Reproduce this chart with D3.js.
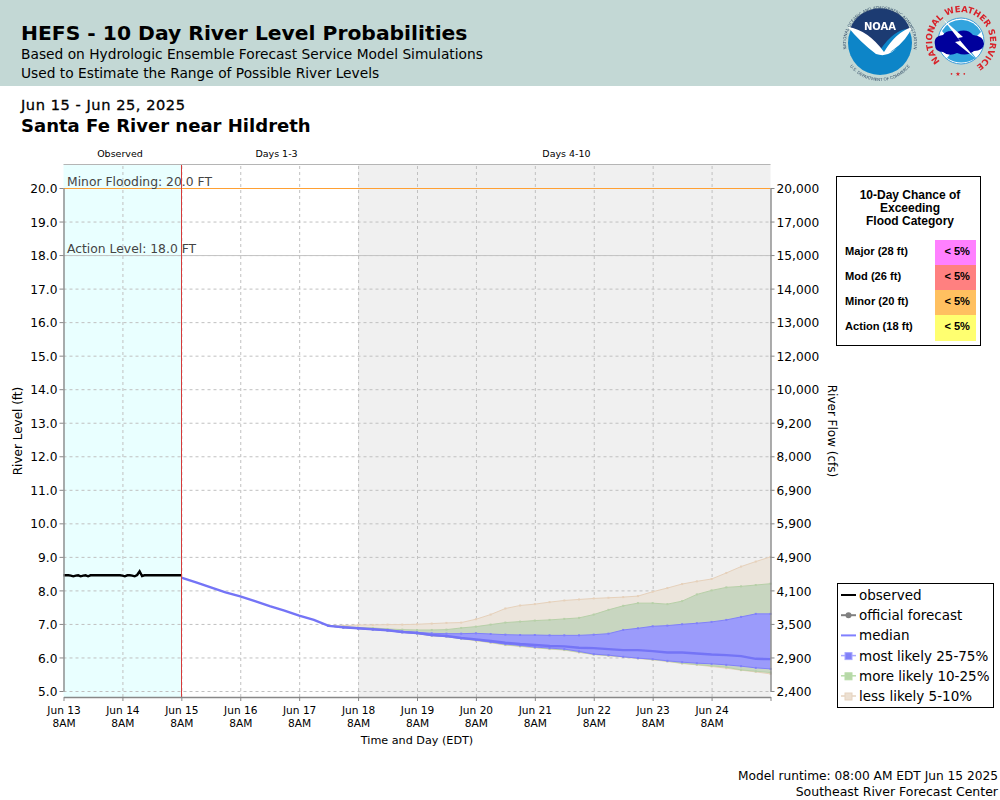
<!DOCTYPE html>
<html>
<head>
<meta charset="utf-8">
<script src="https://cdn.jsdelivr.net/npm/d3@7"></script>
<style>
  html, body { margin: 0; padding: 0; background: #fff; }
  svg { display: block; }
  text { font-family: "DejaVu Sans", sans-serif; fill: #000; }
</style>
</head>
<body>
<script>
// y axis labels, one per foot
const stageTicks = [5, 6, 7, 8, 9, 10, 11, 12, 13, 14, 15, 16, 17, 18, 19, 20];
const flowLabels = ["2,400", "2,900", "3,500", "4,100", "4,900", "5,900", "6,900", "8,000",
  "9,200", "10,000", "12,000", "13,000", "14,000", "15,000", "17,000", "20,000"];
const dayLabels = ["Jun 13", "Jun 14", "Jun 15", "Jun 16", "Jun 17", "Jun 18", "Jun 19",
  "Jun 20", "Jun 21", "Jun 22", "Jun 23", "Jun 24"];

// observed stage, hourly from Jun 13 8AM
const observed = [8.45, 8.45, 8.45, 8.44, 8.42, 8.44, 8.45, 8.42, 8.44, 8.45, 8.42, 8.45, 8.45,
  8.45, 8.45, 8.45, 8.45, 8.45, 8.45, 8.45, 8.45, 8.45, 8.45, 8.45, 8.44, 8.42, 8.45, 8.45, 8.44,
  8.42, 8.46, 8.57, 8.43, 8.45, 8.45, 8.45, 8.45, 8.45, 8.45, 8.45, 8.45, 8.45, 8.45, 8.45, 8.45,
  8.45, 8.45, 8.45, 8.45];

// median forecast, every 6 hours from Jun 15 8AM
const median = [8.38, 8.24, 8.09, 7.94, 7.82, 7.68, 7.53, 7.40, 7.25, 7.12, 6.94, 6.90, 6.87, 6.84,
  6.81, 6.76, 6.73, 6.67, 6.64, 6.58, 6.54, 6.49, 6.44, 6.40, 6.37, 6.34, 6.33, 6.29, 6.28, 6.25,
  6.22, 6.22, 6.19, 6.15, 6.15, 6.12, 6.09, 6.07, 6.04, 5.96, 5.95];

// probability bands, every 6 hours from Jun 17 8PM
const p95 = [6.94, 6.95, 6.97, 6.97, 6.98, 6.98, 6.99, 7.01, 7.03, 7.04, 7.14, 7.28, 7.46, 7.55, 7.59,
  7.65, 7.70, 7.73, 7.76, 7.78, 7.80, 7.83, 7.96, 8.07, 8.19, 8.27, 8.34, 8.52, 8.71, 8.86, 9.00];
const p90 = [6.94, 6.92, 6.89, 6.88, 6.85, 6.83, 6.82, 6.82, 6.83, 6.88, 6.92, 6.98, 7.04, 7.07, 7.10,
  7.12, 7.15, 7.18, 7.28, 7.42, 7.54, 7.62, 7.62, 7.59, 7.68, 7.88, 8.00, 8.09, 8.12, 8.16, 8.20];
const p75 = [6.94, 6.91, 6.88, 6.85, 6.82, 6.78, 6.75, 6.72, 6.71, 6.71, 6.72, 6.70, 6.68, 6.67, 6.67,
  6.66, 6.66, 6.66, 6.68, 6.71, 6.82, 6.87, 6.93, 6.95, 6.99, 7.02, 7.06, 7.12, 7.21, 7.30, 7.30];
const p25 = [6.94, 6.89, 6.86, 6.83, 6.80, 6.75, 6.72, 6.66, 6.63, 6.57, 6.52, 6.46, 6.40, 6.36, 6.31,
  6.28, 6.25, 6.18, 6.10, 6.07, 6.02, 5.98, 5.95, 5.90, 5.86, 5.83, 5.81, 5.78, 5.74, 5.69, 5.66];
const p10 = [6.94, 6.89, 6.86, 6.83, 6.80, 6.75, 6.71, 6.65, 6.62, 6.56, 6.51, 6.45, 6.38, 6.34, 6.30,
  6.26, 6.23, 6.16, 6.09, 6.06, 6.02, 5.98, 5.94, 5.89, 5.83, 5.79, 5.75, 5.71, 5.63, 5.59, 5.55];
const p5 = [6.94, 6.89, 6.86, 6.83, 6.80, 6.75, 6.71, 6.65, 6.62, 6.56, 6.50, 6.44, 6.37, 6.33, 6.29,
  6.25, 6.22, 6.15, 6.09, 6.05, 6.01, 5.97, 5.93, 5.88, 5.82, 5.78, 5.73, 5.68, 5.62, 5.57, 5.51];

// flood category table
const floodCats = ["Major (28 ft)", "Mod (26 ft)", "Minor (20 ft)", "Action (18 ft)"];
const floodChance = ["< 5%", "< 5%", "< 5%", "< 5%"];
const floodColors = ["#ff80ff", "#ff8080", "#ffc060", "#ffff70"];

const w = 1000, h = 800;
const plotL = 63.5, plotR = 770.5, plotT = 164.5, plotB = 697;
const HOUR = 3600 * 1000;
const start = new Date(2025, 5, 13, 8);
const fcStart = new Date(2025, 5, 15, 8);
const bandStart = new Date(2025, 5, 17, 20);
const day = (n) => new Date(2025, 5, 13 + n, 8);

const svg = d3.select("body").append("svg").attr("width", w).attr("height", h);

const x = d3.scaleTime().domain([start, day(12)]).range([plotL, plotR]);
const y = d3.scaleLinear().domain([5, 20]).range([691, 188]);

// header
svg.append("rect").attr("width", w).attr("height", 86).attr("fill", "#c3d8d5");
svg.append("text").attr("x", 21).attr("y", 40).style("font-size", "20.3px").style("font-weight", "bold")
  .text("HEFS - 10 Day River Level Probabilities");
svg.append("text").attr("x", 21).attr("y", 59).style("font-size", "13.77px")
  .text("Based on Hydrologic Ensemble Forecast Service Model Simulations");
svg.append("text").attr("x", 21).attr("y", 78).style("font-size", "13.77px")
  .text("Used to Estimate the Range of Possible River Levels");
svg.append("text").attr("x", 21).attr("y", 110).style("font-size", "14.6px").style("letter-spacing", "0.55px")
  .style("stroke", "#000").style("stroke-width", 0.3).text("Jun 15 - Jun 25, 2025");
svg.append("text").attr("x", 21).attr("y", 132).style("font-size", "18.05px").style("font-weight", "bold")
  .text("Santa Fe River near Hildreth");

// shaded periods
svg.append("rect").attr("x", plotL).attr("y", plotT).attr("width", x(fcStart) - plotL).attr("height", plotB - plotT).attr("fill", "#e9ffff");
svg.append("rect").attr("x", x(day(5))).attr("y", plotT).attr("width", plotR - x(day(5))).attr("height", plotB - plotT).attr("fill", "#f0f0f0");

[["Observed", 120], ["Days 1-3", 276.5], ["Days 4-10", 566.5]].forEach((d) => {
  svg.append("text").attr("x", d[1]).attr("y", 157).attr("text-anchor", "middle").style("font-size", "9.5px").text(d[0]);
});

// grid
const gridStyle = (g) => {
  g.select(".domain").remove();
  g.selectAll("line").attr("stroke", "#c0c0c0").attr("stroke-dasharray", "3,3");
  g.selectAll("text").remove();
};
svg.append("g").attr("transform", "translate(0," + plotB + ")")
  .call(d3.axisBottom(x).tickValues(d3.range(1, 12).map(day)).tickSize(-(plotB - plotT))).call(gridStyle);
svg.append("g").attr("transform", "translate(" + plotL + ",0)")
  .call(d3.axisLeft(y).tickValues(stageTicks).tickSize(-(plotR - plotL))).call(gridStyle);

// flood levels
svg.append("line").attr("x1", plotL).attr("x2", plotR).attr("y1", y(20) + 0.5).attr("y2", y(20) + 0.5).attr("stroke", "#ffa033");
svg.append("line").attr("x1", plotL).attr("x2", plotR).attr("y1", y(18) + 0.5).attr("y2", y(18) + 0.5).attr("stroke", "#c4c4c4");
svg.append("text").attr("x", 67).attr("y", y(20) - 2).style("font-size", "12.35px").style("fill", "#444").text("Minor Flooding: 20.0 FT");
svg.append("text").attr("x", 67).attr("y", y(18) - 2).style("font-size", "12.35px").style("fill", "#444").text("Action Level: 18.0 FT");

// forecast bands
const bandX = (i) => x(new Date(+bandStart + i * 6 * HOUR));
const drawBand = (lo, hi, fill, edge) => {
  const area = d3.area().x((d, i) => bandX(i)).y0((d) => y(d)).y1((d, i) => y(hi[i]));
  const line = d3.line().x((d, i) => bandX(i)).y((d) => y(d));
  svg.append("path").datum(lo).attr("d", area).attr("fill", fill);
  [lo, hi].forEach((s) => {
    svg.append("path").datum(s).attr("d", line).attr("fill", "none").attr("stroke", edge).attr("stroke-width", 1);
    svg.append("g").selectAll("rect").data(s).enter().append("rect")
      .attr("x", (d, i) => bandX(i) - 1).attr("y", (d) => y(d) - 1).attr("width", 2).attr("height", 2)
      .attr("fill", edge);
  });
};
drawBand(p5, p95, "#ece5dc", "#e6d1bb");
drawBand(p10, p90, "#c8d6c0", "#b7d0a8");
drawBand(p25, p75, "#9b9bfb", "#8080fa");

// median and observed
svg.append("path").datum(median)
  .attr("d", d3.line().x((d, i) => x(new Date(+fcStart + i * 6 * HOUR))).y((d) => y(d)))
  .attr("fill", "none").attr("stroke", "#7474f6").attr("stroke-width", 2.4);
svg.append("path").datum(observed)
  .attr("d", d3.line().x((d, i) => x(new Date(+start + i * HOUR))).y((d) => y(d)))
  .attr("fill", "none").attr("stroke", "#000").attr("stroke-width", 2.4);

// today marker
const nowX = Math.floor(x(fcStart)) + 0.5;
svg.append("line").attr("x1", nowX).attr("x2", nowX).attr("y1", plotT).attr("y2", plotB).attr("stroke", "#d63a3a");

// frame
svg.append("line").attr("x1", plotL).attr("x2", plotR).attr("y1", plotT).attr("y2", plotT).attr("stroke", "#b5b5b5").attr("stroke-width", 1.2);

// axes
const axisStyle = (g) => {
  g.select(".domain").attr("stroke", "#888").attr("stroke-width", 1.4);
  g.selectAll("line").attr("stroke", "#888");
  g.selectAll("text").style("font-size", "12.2px").style("font-family", '"DejaVu Sans"').attr("dy", "0.38em");
};
svg.append("g").attr("transform", "translate(" + plotL + ",0)")
  .call(d3.axisLeft(y).tickValues(stageTicks).tickFormat(d3.format(".1f")).tickSize(4).tickPadding(2).tickSizeOuter(0))
  .call(axisStyle);
svg.append("g").attr("transform", "translate(" + plotR + ",0)")
  .call(d3.axisRight(y).tickValues(stageTicks).tickFormat((d, i) => flowLabels[i]).tickSize(4).tickPadding(2).tickSizeOuter(0))
  .call(axisStyle);
const xAxis = svg.append("g").attr("transform", "translate(0," + plotB + ")")
  .call(d3.axisBottom(x).tickValues(d3.range(0, 13).map(day)).tickFormat("").tickSize(4).tickSizeOuter(0))
  .call(axisStyle);
xAxis.selectAll(".tick").filter((d, i) => i < dayLabels.length).each(function (d, i) {
  const t = d3.select(this);
  t.append("text").attr("y", 17).attr("text-anchor", "middle").style("font-size", "10.6px").style("fill", "#000").text(dayLabels[i]);
  t.append("text").attr("y", 30).attr("text-anchor", "middle").style("font-size", "10.6px").style("fill", "#000").text("8AM");
});

// axis titles
svg.append("text").attr("x", 417).attr("y", 744).attr("text-anchor", "middle").style("font-size", "11.2px").text("Time and Day (EDT)");
svg.append("text").attr("transform", "translate(22,431) rotate(-90)").attr("text-anchor", "middle").style("font-size", "12px").text("River Level (ft)");
svg.append("text").attr("transform", "translate(828,431) rotate(90)").attr("text-anchor", "middle").style("font-size", "12px").text("River Flow (cfs)");

// flood table
svg.append("rect").attr("x", 836.5).attr("y", 176.5).attr("width", 144).attr("height", 169).attr("fill", "#fff").attr("stroke", "#000");
["10-Day Chance of", "Exceeding", "Flood Category"].forEach((d, i) => {
  svg.append("text").attr("x", 910).attr("y", 199 + i * 13).attr("text-anchor", "middle")
    .style("font-family", '"Liberation Sans"').style("font-size", "12px").style("font-weight", "bold").text(d);
});
floodCats.forEach((d, i) => {
  const rowY = 240 + i * 25;
  svg.append("rect").attr("x", 935).attr("y", rowY).attr("width", 41).attr("height", i == 3 ? 26 : 25).attr("fill", floodColors[i]);
  svg.append("text").attr("x", 845).attr("y", rowY + 15).style("font-family", '"Liberation Sans"').style("font-size", "11.1px").style("font-weight", "bold").text(d);
  svg.append("text").attr("x", 970).attr("y", rowY + 15).attr("text-anchor", "end").style("font-family", '"Liberation Sans"').style("font-size", "11.1px").style("font-weight", "bold").text(floodChance[i]);
});

// legend
const legendRows = [
  { label: "observed", color: "#000", width: 2 },
  { label: "official forecast", color: "#808080", width: 2, dot: true },
  { label: "median", color: "#8080ff", width: 2 },
  { label: "most likely 25-75%", color: "#a8a8ff", width: 1.5, box: "#8080f8" },
  { label: "more likely 10-25%", color: "#b7dca8", width: 1.5, box: "#b7d8a8" },
  { label: "less likely 5-10%", color: "#e6d3bf", width: 1.5, box: "#ece0d2" },
];
svg.append("rect").attr("x", 837.5).attr("y", 583.5).attr("width", 156).attr("height", 124).attr("fill", "#fff").attr("stroke", "#000");
legendRows.forEach((d, i) => {
  const ry = 595 + i * 20.2;
  svg.append("line").attr("x1", 841).attr("x2", 856).attr("y1", ry).attr("y2", ry).attr("stroke", d.color).attr("stroke-width", d.width);
  if (d.dot) svg.append("circle").attr("cx", 848.5).attr("cy", ry).attr("r", 3).attr("fill", d.color);
  if (d.box) svg.append("rect").attr("x", 845).attr("y", ry - 3).attr("width", 7).attr("height", 7).attr("fill", d.box).attr("stroke", d.color);
  svg.append("text").attr("x", 859).attr("y", ry + 5).style("font-size", "13.5px").text(d.label);
});

// footer
svg.append("text").attr("x", 998).attr("y", 780).attr("text-anchor", "end").style("font-size", "12.2px").text("Model runtime: 08:00 AM EDT Jun 15 2025");
svg.append("text").attr("x", 998).attr("y", 796).attr("text-anchor", "end").style("font-size", "12.5px").text("Southeast River Forecast Center");

// logos
const defs = svg.append("defs");
defs.append("filter").attr("id", "soft").append("feGaussianBlur").attr("stdDeviation", 0.3);
defs.append("path").attr("id", "noaaTop").attr("d", "M 848.5 56 A 34 34 0 1 1 911.5 56");
defs.append("path").attr("id", "noaaBot").attr("d", "M 846 60 A 38 38 0 0 0 914 60");
defs.append("path").attr("id", "nwsRing").attr("d", "M 941 62 A 29 29 0 1 1 975 66.5");

const noaa = svg.append("g").attr("filter", "url(#soft)");
noaa.append("circle").attr("cx", 880).attr("cy", 43).attr("r", 32).attr("fill", "#0a85c8");
noaa.append("path").attr("d", "M 850 29 A 32 32 0 0 1 910 29 Q 895 28 880 50 Q 868 34 850 29 Z").attr("fill", "#1f3a72");
noaa.append("path").attr("d", "M 848 27 Q 868 30 884 52 Q 896 32 912 27 Q 907 40 893 50 Q 885 56 897 48 L 892 52 Q 885 57 876 54 Q 860 42 848 27 Z").attr("fill", "#fff");
noaa.append("text").attr("x", 880).attr("y", 30).attr("text-anchor", "middle").style("font-size", "10px").style("font-weight", "bold").style("fill", "#fff").text("NOAA");
noaa.append("text").style("font-size", "4.1px").style("fill", "#37506a").append("textPath").attr("href", "#noaaTop").attr("startOffset", "50%").attr("text-anchor", "middle")
  .text("NATIONAL OCEANIC AND ATMOSPHERIC ADMINISTRATION");
noaa.append("text").style("font-size", "4.1px").style("fill", "#37506a").append("textPath").attr("href", "#noaaBot").attr("startOffset", "50%").attr("text-anchor", "middle")
  .text("U.S. DEPARTMENT OF COMMERCE");

const nws = svg.append("g").attr("filter", "url(#soft)");
nws.append("circle").attr("cx", 961).attr("cy", 41).attr("r", 23).attr("fill", "#fff").attr("stroke", "#3a9ad8");
nws.append("path").attr("d", "M 942 31 A 22 22 0 0 1 981 32 L 977 36 L 946 36 Z").attr("fill", "#32a4de");
nws.append("path").attr("d", "M 947 58 Q 961 67 976 58 L 972 53 L 951 53 Z").attr("fill", "#32a4de");
nws.append("path").attr("d", "M 935 45 Q 933 36 943 35 Q 947 29 957 32 Q 967 28 973 35 Q 984 36 984 44 Q 983 51 974 51 Q 967 57 957 53 Q 949 57 943 52 Q 935 52 935 45 Z").attr("fill", "#00009c");
nws.append("path").attr("d", "M 943 19 L 963 37 L 958 38 L 975 58 L 955 42 L 960 41 Z").attr("fill", "#fff");
nws.append("text").style("font-size", "8.6px").style("font-weight", "bold").style("fill", "#d8232a")
  .append("textPath").attr("href", "#nwsRing").attr("startOffset", "50%").attr("text-anchor", "middle").text("NATIONAL WEATHER SERVICE");
nws.append("text").attr("x", 958).attr("y", 76).attr("text-anchor", "middle").style("font-size", "6px").style("fill", "#d8232a").text("• ★ •");
</script>
</body>
</html>
